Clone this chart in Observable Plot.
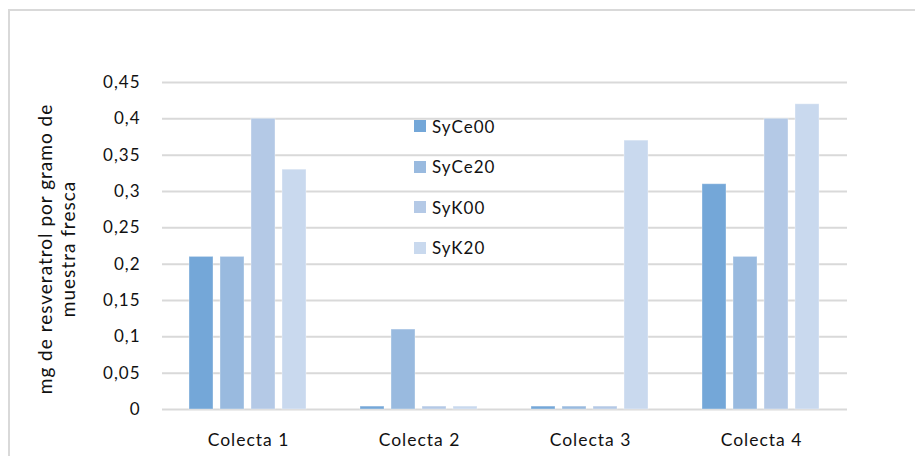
<!DOCTYPE html>
<html>
<head>
<meta charset="utf-8">
<script src="https://cdn.jsdelivr.net/npm/d3@7"></script>
<script src="https://cdn.jsdelivr.net/npm/@observablehq/plot@0.6"></script>
<style>
  html, body { margin: 0; padding: 0; background: #fff; overflow: hidden; width: 915px; height: 456px; }
  #wrap { position: relative; width: 915px; height: 456px; }
  #frame { position: absolute; left: 8px; top: 9px; width: 1200px; height: 1200px; border: 2px solid #d9d9d9; box-sizing: border-box; }
  .layer { position: absolute; left: 0; top: 0; }
  #legend { position: absolute; left: 414px; top: 106px; font-family: Lato, sans-serif; font-size: 17px; letter-spacing: 1px; color: #111; }
  .item { display: flex; align-items: center; height: 40.5px; }
  .sw { width: 12px; height: 12px; margin-right: 6px; }
</style>
</head>
<body>
<div id="wrap">
  <div id="frame"></div>
  <div id="back" class="layer"></div>
  <div id="front" class="layer"></div>
  <div id="legend"></div>
</div>
<script>
const categories = ["Colecta 1", "Colecta 2", "Colecta 3", "Colecta 4"];
const series = ["SyCe00", "SyCe20", "SyK00", "SyK20"];
const SyCe00 = [0.21, 0.004, 0.004, 0.31];
const SyCe20 = [0.21, 0.11, 0.004, 0.21];
const SyK00 = [0.40, 0.004, 0.004, 0.40];
const SyK20 = [0.33, 0.004, 0.37, 0.42];
const colors = ["#74a7d8", "#99badf", "#b4c9e6", "#c9d9ee"];
const yTicks = [0, 0.05, 0.1, 0.15, 0.2, 0.25, 0.3, 0.35, 0.4, 0.45];
const yTickLabels = ["0", "0,05", "0,1", "0,15", "0,2", "0,25", "0,3", "0,35", "0,4", "0,45"];
const yTitle = "mg de resveratrol por gramo de\nmuestra fresca";

const valuesBySeries = [SyCe00, SyCe20, SyK00, SyK20];
const data = [];
categories.forEach((c, i) => {
  series.forEach((s, j) => {
    data.push({colecta: c, serie: s, value: valuesBySeries[j][i]});
  });
});

const common = {
  width: 915,
  height: 456,
  marginLeft: 162,
  marginRight: 68,
  marginTop: 82,
  marginBottom: 47,
  style: {fontFamily: "Lato, sans-serif", fontSize: "17px", letterSpacing: "1px", color: "#111", background: "transparent"}
};

const back = Plot.plot({
  ...common,
  y: {domain: [0, 0.45], axis: null},
  marks: [
    Plot.ruleY(yTicks, {stroke: "#d9d9d9", strokeWidth: 2}),
    Plot.axisY(yTicks, {tickSize: 0, tickPadding: 22, tickFormat: d => yTickLabels[yTicks.indexOf(d)], label: null, fontSize: 17}),
    Plot.text([yTitle], {frameAnchor: "left", dx: -106, dy: 3, rotate: -90, text: d => d, fontSize: 19, lineHeight: 1.2, lineAnchor: "middle", textAnchor: "middle", fill: "#111"})
  ]
});
document.getElementById("back").appendChild(back);

const front = Plot.plot({
  ...common,
  fx: {domain: categories, paddingInner: 0.276, paddingOuter: 0.138, axis: null},
  x: {domain: series, paddingInner: 0.21, paddingOuter: 0.105, axis: null},
  y: {domain: [0, 0.45], axis: null},
  color: {domain: series, range: colors},
  marks: [
    Plot.barY(data, {fx: "colecta", x: "serie", y: "value", fill: "serie", stroke: "#ffffff", strokeOpacity: 0.35, strokeWidth: 1}),
    Plot.axisFx({anchor: "bottom", tickSize: 0, tickPadding: 24, label: null, fontSize: 17.5})
  ]
});
document.getElementById("front").appendChild(front);

const legend = document.getElementById("legend");
series.forEach((s, i) => {
  const item = document.createElement("div");
  item.className = "item";
  const sw = document.createElement("div");
  sw.className = "sw";
  sw.style.background = colors[i];
  const label = document.createElement("span");
  label.textContent = s;
  item.appendChild(sw);
  item.appendChild(label);
  legend.appendChild(item);
});
</script>
</body>
</html>
